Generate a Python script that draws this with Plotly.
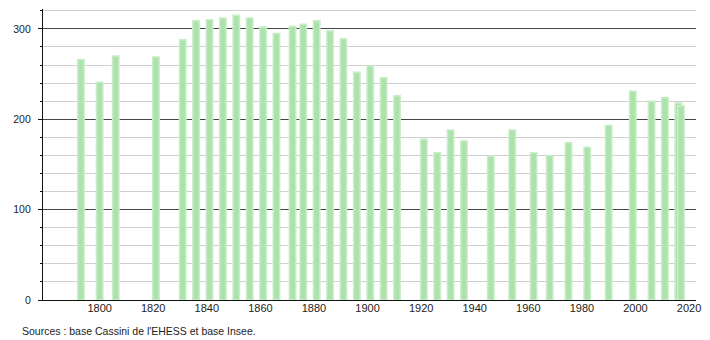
import plotly.graph_objects as go

years = [1793, 1800, 1806, 1821, 1831, 1836, 1841, 1846, 1851, 1856, 1861, 1866,
         1872, 1876, 1881, 1886, 1891, 1896, 1901, 1906, 1911, 1921, 1926, 1931,
         1936, 1946, 1954, 1962, 1968, 1975, 1982, 1990, 1999, 2006, 2011, 2016, 2017]
population = [266, 241, 270, 269, 288, 309, 310, 312, 315, 312, 302, 295,
              303, 305, 309, 298, 289, 252, 259, 246, 226, 178, 163, 188,
              176, 159, 188, 163, 160, 174, 169, 193, 231, 220, 224, 218, 215]
x_ticks = [1800, 1820, 1840, 1860, 1880, 1900, 1920, 1940, 1960, 1980, 2000, 2020]
y_ticks = [0, 100, 200, 300]
source_text = "Sources : base Cassini de l'EHESS et base Insee."

fig = go.Figure()
fig.add_trace(go.Bar(
    x=years, y=population, width=2.4,
    marker=dict(color="#ade2ad", line=dict(color="#c9edc9", width=1.5)),
    hoverinfo="x+y",
))

fig.update_layout(
    width=710, height=340,
    margin=dict(l=43, r=10, t=9, b=40),
    plot_bgcolor="white", paper_bgcolor="white",
    showlegend=False, barmode="overlay",
    font=dict(family="Liberation Sans, Arial, sans-serif", size=11, color="#222"),
    xaxis=dict(
        range=[1778.85, 2022.6], tickvals=x_ticks, showgrid=False,
        showline=True, linecolor="#111", linewidth=1.2, ticks="", zeroline=False,
        tickfont=dict(size=11), ticklabelstandoff=-2,
    ),
    yaxis=dict(
        range=[0, 322], tickvals=y_ticks, showgrid=True, gridcolor="#444", gridwidth=1,
        showline=True, linecolor="#111", linewidth=1.2, ticks="outside", ticklen=4,
        tickcolor="#111", zeroline=False, tickfont=dict(size=10.5),
        ticklabelstandoff=5,
        minor=dict(dtick=20, showgrid=True, gridcolor="#cfcfcf", gridwidth=1,
                   ticks="outside", ticklen=2, tickcolor="#111"),
    ),
    annotations=[dict(
        text=source_text, xref="paper", yref="paper", x=-0.035, y=-0.078,
        xanchor="left", yanchor="top", showarrow=False,
        font=dict(size=10.5, color="#222"),
    )],
)

fig.write_html("out.html")
